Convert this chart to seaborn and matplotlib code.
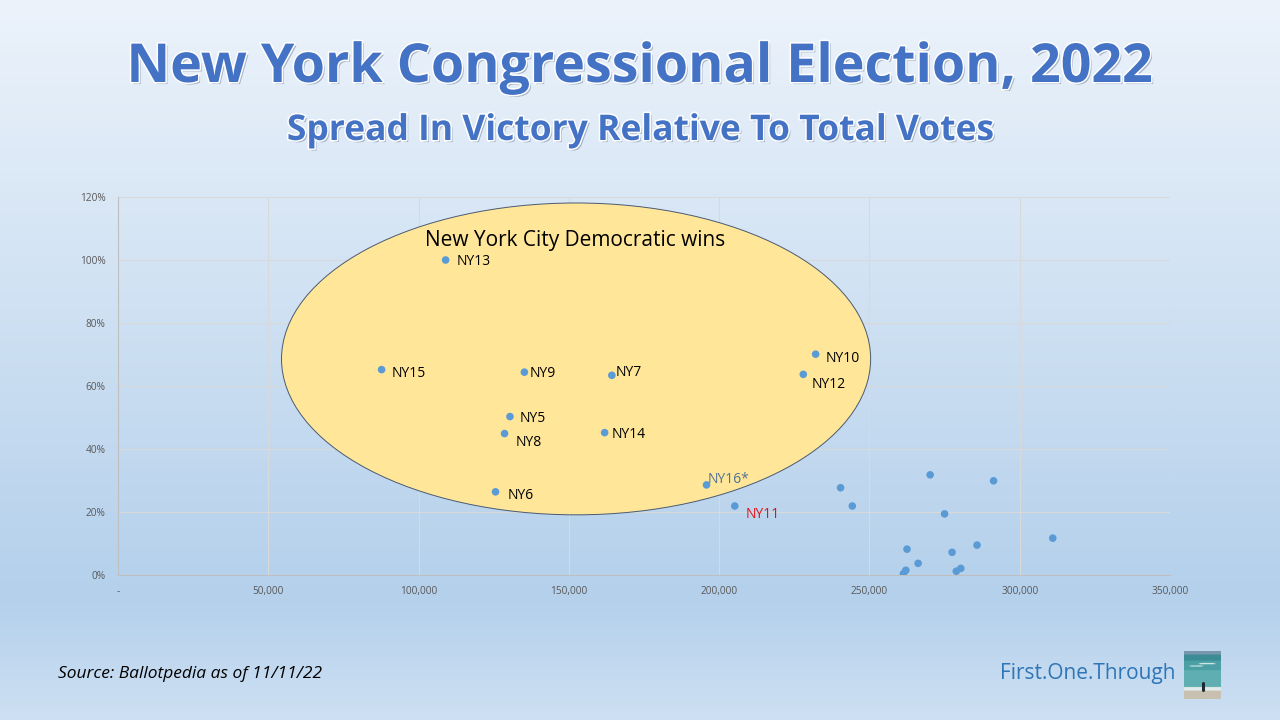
import matplotlib
matplotlib.use("Agg")
import matplotlib.pyplot as plt
import matplotlib.patheffects as pe
from matplotlib.patches import Ellipse
from matplotlib.ticker import FuncFormatter, MultipleLocator
import numpy as np
import pandas as pd
import seaborn as sns

# --- data ---
districts = ["NY13", "NY15", "NY9", "NY7", "NY10", "NY12", "NY5", "NY8", "NY14", "NY6",
             "NY16*", "NY11", "", "", "", "", "", "", "", "", "", "", "", "", "", ""]
total_votes = [109000, 87700, 135200, 164300, 232100, 228000, 130400, 128600, 161900, 125600,
               195800, 205200, 240400, 244300, 270200, 291300, 275000, 311000, 262500, 266200,
               277500, 285800, 261300, 262100, 278900, 280400]
spread = [1.00, 0.652, 0.644, 0.634, 0.701, 0.637, 0.503, 0.449, 0.452, 0.264,
          0.286, 0.219, 0.277, 0.219, 0.318, 0.299, 0.194, 0.117, 0.082, 0.037,
          0.072, 0.095, 0.004, 0.015, 0.012, 0.021]

df = pd.DataFrame({"district": districts, "votes": total_votes, "spread": spread})

# label placement (offset in points) and colour
label_style = {
    "NY13": ((8, -1.3), "black"), "NY15": ((7, -2.8), "black"), "NY9": ((4, -1.3), "black"),
    "NY7": ((3, 1.7), "black"), "NY10": ((7, -3.3), "black"), "NY12": ((6, -7.3), "black"),
    "NY5": ((7, -1.3), "black"), "NY8": ((8, -6.3), "black"), "NY14": ((5, -1.3), "black"),
    "NY6": ((8.5, -2.8), "black"), "NY16*": ((1, 3.7), "#4F7196"), "NY11": ((8, -6.3), "#E3101A"),
}

# --- figure with gradient background ---
fig = plt.figure(figsize=(12.8, 7.2), dpi=100)
bg = fig.add_axes([0, 0, 1, 1], zorder=-10)
t = np.linspace(0, 1, 720)[:, None]
top = np.array([236, 243, 251]) / 255
mid = np.array([180, 208, 235]) / 255
bot = np.array([205, 224, 243]) / 255
k = 0.83
grad = np.where(t < k, top + (mid - top) * (t / k), mid + (bot - mid) * ((t - k) / (1 - k)))
grad = grad[:, None, :] * np.ones((1, 2, 1))
bg.imshow(grad, aspect="auto", extent=[0, 1, 0, 1])
bg.axis("off")

sns.set_style("white")
plt.rcParams["font.family"] = ["Open Sans", "DejaVu Sans"]

ax = fig.add_axes([118 / 1280, 145 / 720, (1170 - 118) / 1280, (575 - 197) / 720])
ax.patch.set_alpha(0)

ell = Ellipse((152400, 0.686), 196000, 0.99, facecolor="#FFE699",
              edgecolor="#4A5A70", linewidth=0.7, zorder=1)
ax.add_patch(ell)

sns.scatterplot(data=df, x="votes", y="spread", ax=ax, color="#5B9BD5",
                s=30, edgecolor="none", zorder=3, legend=False)

for _, row in df.iterrows():
    if row["district"] in label_style:
        off, col = label_style[row["district"]]
        ax.annotate(row["district"], (row["votes"], row["spread"]), xytext=off,
                    textcoords="offset points", ha="left", va="center",
                    fontsize=10, color=col, zorder=4)

ax.text(152000, 1.061, "New York City Democratic wins", ha="center", va="center",
        fontsize=15, color="black", zorder=4)

ax.set_xlim(0, 350000)
ax.set_ylim(0, 1.2)
ax.xaxis.set_major_locator(MultipleLocator(50000))
ax.yaxis.set_major_locator(MultipleLocator(0.2))
ax.xaxis.set_major_formatter(FuncFormatter(lambda v, p: "-" if v == 0 else f"{v:,.0f}"))
ax.yaxis.set_major_formatter(FuncFormatter(lambda v, p: f"{v * 100:.0f}%"))
ax.grid(True, color="#D9D9D9", linewidth=0.8, zorder=0)
ax.set_axisbelow(True)
for s in ["top", "right"]:
    ax.spines[s].set_visible(False)
for s in ["left", "bottom"]:
    ax.spines[s].set_color("#BFBFBF")
    ax.spines[s].set_linewidth(0.8)
ax.tick_params(axis="both", length=0, labelsize=7.3, labelcolor="#595959")
ax.tick_params(axis="x", pad=8)
ax.tick_params(axis="y", pad=9)
ax.set_xlabel("")
ax.set_ylabel("")

# --- titles ---
title_fx = [pe.SimplePatchShadow(offset=(1.5, -1.5), shadow_rgbFace="#7F8FA6", alpha=0.6),
            pe.Stroke(linewidth=2.2, foreground="white"), pe.Normal()]
fig.text(0.5, 1 - 68 / 720, "New York Congressional Election, 2022", ha="center",
         va="center", fontsize=38.7, fontweight="bold", color="#4472C4", path_effects=title_fx)
fig.text(0.5, 1 - 131 / 720, "Spread In Victory Relative To Total Votes", ha="center",
         va="center", fontsize=25.5, fontweight="bold", color="#4472C4", path_effects=title_fx)

fig.text(58 / 1280, 1 - 674 / 720, "Source: Ballotpedia as of 11/11/22", ha="left",
         va="center", fontsize=12.5, style="italic", color="black")
fig.text(1175 / 1280, 1 - 674 / 720, "First.One.Through", ha="right", va="center",
         fontsize=15, color="#2E75B6")

# small beach photo
photo = fig.add_axes([1184 / 1280, 1 - 699 / 720, 37 / 1280, 48 / 720])
rows = np.array([[120, 150, 172]] * 3 + [[60, 140, 150]] * 5 + [[75, 160, 165]] * 8
                + [[95, 175, 178]] * 14 + [[225, 235, 235]] * 3 + [[200, 192, 176]] * 7) / 255
img = rows[:, None, :] * np.ones((1, 12, 1))
img[10, 5:10] = [0.85, 0.93, 0.93]
img[12, 2:6] = [0.8, 0.9, 0.9]
photo.imshow(img, aspect="auto", interpolation="bilinear")
photo.plot([5.5, 5.5], [26, 32], color="#1F2A30", linewidth=2.2)
photo.axis("off")

fig.savefig("out.png", dpi=100)
